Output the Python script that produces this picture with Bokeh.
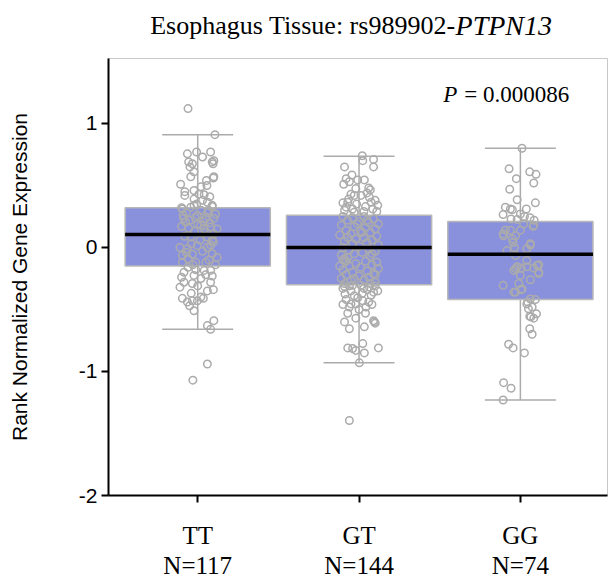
from bokeh.plotting import figure
from bokeh.models import Range1d, FixedTicker, Label
from bokeh.layouts import column
from bokeh.core.properties import value
from bokeh.embed import file_html
from bokeh.resources import INLINE

# ---------------- data ----------------
genotypes = ["TT", "GT", "GG"]
counts = ["N=117", "N=144", "N=74"]
positions = [0, 1, 2]

y_ticks = [-2, -1, 0, 1]
y_tick_labels = ["-2", "-1", "0", "1"]

upper_whisker = [0.91, 0.735, 0.80]
q3 = [0.32, 0.26, 0.21]
median = [0.105, 0.0, -0.055]
q1 = [-0.15, -0.30, -0.42]
lower_whisker = [-0.66, -0.93, -1.23]

title_plain = "Esophagus Tissue: rs989902-"
title_gene = "PTPN13"
p_value_text = "= 0.000086"

tt_dx = [-0.06, 0.107, -0.064, -0.007, 0.03, 0.08, -0.033, 0.095, 0.10, -0.048,
         -0.023, -0.043, 0.10, 0.054, -0.106, -0.023, -0.08, 0.008, 0.04, 0.075,
         -0.023, 0.03, -0.006, 0.09, 0.06, -0.10, -0.043, -0.056, 0.09, 0.097,
         0.057, -0.08, 0.02,
         -0.023, 0.09, 0.068, -0.087, -0.075, -0.002, 0.05, 0.10, -0.056, 0.019,
         0.081, -0.043, 0.06, 0.097, -0.064, -0.002, 0.06, -0.095, -0.033, 0.09,
         0.12, -0.095, -0.012, 0.05, -0.07, 0.02, 0.11, -0.05, 0.035, 0.075,
         -0.10, -0.02, 0.05, 0.10, -0.08, 0.015, -0.04, 0.08, -0.11, 0.03,
         -0.06, 0.07, 0.11, -0.03, 0.0, -0.09, 0.06, 0.12, -0.015, 0.09,
         -0.07, 0.04, -0.095,
         -0.085, -0.012, 0.04, 0.08, -0.10, -0.023, 0.02, -0.085, -0.033, 0.08,
         -0.11, 0.097, -0.04, -0.095, -0.064, -0.033, -0.002, 0.035, -0.023, 0.10,
         0.06, 0.08, 0.06, -0.03, 0.05, -0.06, 0.09, 0.0, 0.06, -0.05, 0.02]
tt_y = [1.12, 0.91, 0.755, 0.77, 0.73, 0.77, 0.675, 0.675, 0.70, 0.65,
        0.61, 0.57, 0.57, 0.54, 0.51, 0.46, 0.42, 0.43, 0.425, 0.41,
        0.39, 0.38, 0.35, 0.34, 0.365, 0.32, 0.325, 0.69, 0.69, 0.56,
        0.50, 0.45, 0.49,
        0.34, 0.33, 0.30, 0.235, 0.205, 0.26, 0.235, 0.235, 0.155, 0.18,
        0.165, 0.085, 0.085, 0.045, -0.01, 0.015, 0.0, -0.065, -0.055, -0.05,
        -0.08, -0.12, -0.12, -0.12, 0.28, 0.30, 0.27, 0.22, 0.21, 0.20,
        0.17, 0.13, 0.12, 0.11, 0.09, 0.06, 0.03, 0.02, 0.0, -0.03,
        -0.09, -0.10, -0.14, -0.14, 0.19, 0.26, 0.28, 0.15, 0.24, 0.06,
        -0.04, 0.15, 0.31,
        -0.20, -0.18, -0.185, -0.185, -0.24, -0.225, -0.25, -0.28, -0.29, -0.28,
        -0.32, -0.34, -0.37, -0.41, -0.44, -0.43, -0.43, -0.41, -0.51, -0.59,
        -0.63, -0.66, -0.94, -1.07, -0.22, -0.16, -0.23, -0.31, -0.35, -0.47, -0.40]

gt_dx = [0.02, 0.023, 0.09, 0.09, -0.09, -0.044, -0.08, -0.008, 0.033, -0.095,
         -0.06, -0.02, 0.07, -0.05, -0.03, 0.012, 0.064, -0.10, -0.07, 0.075,
         0.116, -0.08, -0.04, 0.085, -0.03, 0.05, -0.065, 0.10, -0.015, 0.04,
         0.06, -0.09, 0.03, 0.11,
         -0.10, -0.04, 0.03, 0.09, -0.07, 0.0, 0.06, 0.12, -0.11, -0.03,
         0.04, 0.10, -0.08, 0.01, 0.07, -0.05, -0.12, 0.11, 0.03, -0.02,
         0.08, -0.09, 0.05, -0.04, 0.12, 0.0, -0.10, 0.06, -0.06, 0.10,
         0.02, -0.03, -0.11, 0.07, -0.07, -0.09, -0.10, -0.08, 0.04, 0.11,
         -0.02, 0.08, -0.06, 0.01, 0.12, -0.10, 0.05, -0.04, 0.09, -0.08,
         0.0, 0.06, -0.11, 0.03, -0.05, 0.10, -0.09, 0.07, -0.01, 0.08,
         -0.07, 0.05, 0.10, -0.12, -0.03, 0.02,
         -0.09, -0.04, 0.012, 0.064, 0.116, -0.087, 0.075, -0.008, 0.023, -0.05,
         -0.02, 0.043, -0.06, -0.07, -0.09, 0.095, -0.06, 0.033, -0.07, -0.04,
         -0.02, 0.023, 0.033, 0.12, 0.002, -0.06, -0.10, 0.09, 0.02, -0.03,
         0.06, -0.08, 0.10, 0.0, 0.09, 0.10, -0.05, 0.05, -0.02, 0.04,
         0.08, -0.10, 0.03, -0.06]
gt_y = [0.74, 0.70, 0.71, 0.65, 0.65, 0.585, 0.555, 0.545, 0.545, 0.51,
        0.53, 0.475, 0.465, 0.43, 0.42, 0.42, 0.405, 0.36, 0.365, 0.365,
        0.34, 0.325, 0.31, 0.31, 0.285, 0.44, 0.39, 0.38, 0.35, 0.33,
        0.48, 0.30, 0.29, 0.29,
        0.25, 0.24, 0.25, 0.23, 0.22, 0.21, 0.20, 0.19, 0.18, 0.17,
        0.16, 0.15, 0.14, 0.13, 0.12, 0.11, 0.10, 0.09, 0.08, 0.07,
        0.06, 0.05, 0.04, 0.03, 0.02, 0.01, 0.0, -0.01, -0.02, -0.03,
        -0.04, -0.05, -0.06, -0.07, -0.08, -0.09, -0.10, -0.11, -0.11, -0.12,
        -0.13, -0.14, -0.15, -0.16, -0.17, -0.18, -0.19, -0.20, -0.21, -0.22,
        -0.23, -0.24, -0.25, -0.26, -0.27, -0.28, -0.29, -0.29, 0.19, -0.05,
        0.08, 0.22, -0.22, -0.15, -0.25, 0.12,
        -0.315, -0.305, -0.305, -0.32, -0.35, -0.375, -0.385, -0.405, -0.43, -0.455,
        -0.455, -0.48, -0.48, -0.53, -0.60, -0.60, -0.655, -0.64, -0.81, -0.815,
        -0.83, -0.775, -0.85, -0.81, -0.93, -1.395, -0.33, -0.36, -0.37, -0.39,
        -0.44, -0.42, -0.31, -0.50, -0.59, -0.61, -0.35, -0.34, -0.57, -0.53,
        -0.46, -0.46, -0.33, -0.31]

gg_dx = [0.01, -0.07, 0.058, 0.097, -0.025, 0.083, -0.066, -0.02, 0.093, -0.093,
         -0.062, -0.05, 0.037, -0.107, 0.0, 0.025, -0.058, -0.02, 0.06, 0.085,
         -0.107, -0.062, 0.0, 0.083, -0.05, 0.062, -0.083, -0.03, 0.04, 0.104,
         0.114, -0.04, 0.0, 0.062, -0.107, -0.01, -0.03, 0.004, -0.093, 0.079,
         -0.104, -0.03, -0.045, -0.037, 0.062, 0.04, -0.02, 0.04, 0.114, -0.03,
         0.006, 0.083, 0.114, -0.04, 0.01, 0.02,
         0.062, 0.093, 0.04, 0.073, 0.05, 0.10, 0.058, 0.083, 0.058, 0.073,
         -0.073, -0.045, 0.025, -0.104, -0.058, -0.107, 0.065, 0.045]
gg_y = [0.80, 0.635, 0.61, 0.59, 0.555, 0.52, 0.47, 0.385, 0.36, 0.325,
        0.31, 0.305, 0.31, 0.265, 0.27, 0.25, 0.23, 0.225, 0.24, 0.22,
        0.11, 0.14, 0.14, 0.18, 0.07, 0.03, -0.025, -0.065, -0.105, -0.145,
        -0.20, -0.185, -0.225, -0.26, -0.305, -0.29, -0.36, -0.34, 0.14, 0.17,
        0.095, 0.095, 0.04, 0.0, 0.02, -0.01, -0.155, -0.155, -0.14, -0.17,
        -0.165, -0.165, -0.21, -0.36, -0.335, 0.19,
        -0.415, -0.42, -0.455, -0.48, -0.495, -0.535, -0.555, -0.57, -0.655, -0.70,
        -0.78, -0.81, -0.85, -1.09, -1.135, -1.23, -0.56, -0.44]

point_dx = [tt_dx, gt_dx, gg_dx]
point_y = [tt_y, gt_y, gg_y]

# ---------------- styling ----------------
SERIF = "Liberation Serif"
SANS = "Liberation Sans"
BOX_FILL = "#8a91dc"
GREY = "#ababab"
BOX_W = 0.9
CAP_W = 0.44
W = 608
LEFT = 108
RIGHT = 1
FRAME_W = W - LEFT - RIGHT
HEAD_H = 57
MAIN_FRAME_H = 437
MAIN_TOP = 1
MAIN_BOTTOM = 57
FOOT_H = 579 - HEAD_H - MAIN_TOP - MAIN_FRAME_H - MAIN_BOTTOM

x_rng = Range1d(-0.553, 2.54)


def strip(height):
    """A text-only strip sharing the main plot's horizontal scale."""
    f = figure(title=None, frame_width=FRAME_W, frame_height=height,
               x_range=x_rng, y_range=Range1d(0, height),
               output_backend="svg", toolbar_location=None,
               x_axis_type=None, y_axis_type=None,
               min_border_left=LEFT, min_border_right=RIGHT,
               min_border_top=0, min_border_bottom=0)
    f.outline_line_color = None
    f.xgrid.visible = False
    f.ygrid.visible = False
    return f


# ---------------- header (title) ----------------
head = strip(HEAD_H)
TITLE_JOIN = 1.598
head.text(x=[TITLE_JOIN], y=[32], text=[title_plain], text_align="right",
          text_baseline="alphabetic", text_font=value(SERIF),
          text_font_size=value("26px"), text_color="black")
head.text(x=[TITLE_JOIN], y=[32], text=[title_gene], text_align="left",
          text_baseline="alphabetic", text_font=value(SERIF),
          text_font_style="italic", text_font_size=value("28px"), text_color="black")

# ---------------- main plot ----------------
p = figure(title=None, frame_width=FRAME_W, frame_height=MAIN_FRAME_H,
           x_range=x_rng, y_range=Range1d(-2.0, 1.524),
           output_backend="svg", toolbar_location=None,
           min_border_left=LEFT, min_border_right=RIGHT,
           min_border_top=MAIN_TOP, min_border_bottom=MAIN_BOTTOM)
p.xgrid.visible = False
p.ygrid.visible = False
p.outline_line_color = "#c8c8c8"
p.outline_line_width = 1

# whiskers (vertical)
p.segment(x0=positions, y0=lower_whisker, x1=positions, y1=upper_whisker,
          line_color=GREY, line_width=1.5)
# caps
p.segment(x0=[x - CAP_W / 2 for x in positions], y0=upper_whisker,
          x1=[x + CAP_W / 2 for x in positions], y1=upper_whisker,
          line_color=GREY, line_width=1.5)
p.segment(x0=[x - CAP_W / 2 for x in positions], y0=lower_whisker,
          x1=[x + CAP_W / 2 for x in positions], y1=lower_whisker,
          line_color=GREY, line_width=1.5)
# boxes
p.vbar(x=positions, width=BOX_W, top=q3, bottom=q1,
       fill_color=BOX_FILL, line_color="#b8b8b8", line_width=1.5)

# points
for pos, dxs, ys in zip(positions, point_dx, point_y):
    p.scatter(x=[pos + d for d in dxs], y=ys, marker="circle", size=7.5,
              fill_color=None, line_color=GREY, line_width=1.5)

# medians
p.segment(x0=[x - BOX_W / 2 for x in positions], y0=median,
          x1=[x + BOX_W / 2 for x in positions], y1=median,
          line_color="black", line_width=3.5)

# ---------------- axes ----------------
yax = p.yaxis[0]
yax.ticker = FixedTicker(ticks=y_ticks)
yax.major_label_overrides = {t: s for t, s in zip(y_ticks, y_tick_labels)}
yax.minor_tick_line_color = None
yax.axis_line_color = "black"
yax.axis_line_width = 2
yax.major_tick_line_color = "black"
yax.major_tick_line_width = 2
yax.major_tick_out = 7
yax.major_tick_in = 0
yax.major_label_text_font = SANS
yax.major_label_text_font_size = "21px"
yax.major_label_text_color = "black"
yax.major_label_standoff = 4
yax.axis_label = "Rank Normalized Gene Expression"
yax.axis_label_text_font = SANS
yax.axis_label_text_font_size = "21px"
yax.axis_label_text_font_style = "normal"
yax.axis_label_text_color = "black"
yax.axis_label_standoff = 45

xax = p.xaxis[0]
xax.ticker = FixedTicker(ticks=positions)
xax.major_label_overrides = {pos: g for pos, g in zip(positions, genotypes)}
xax.minor_tick_line_color = None
xax.axis_line_color = "black"
xax.axis_line_width = 2
xax.major_tick_line_color = "black"
xax.major_tick_line_width = 2
xax.major_tick_out = 7
xax.major_tick_in = 0
xax.major_label_text_font = SERIF
xax.major_label_text_font_size = "25px"
xax.major_label_text_color = "black"
xax.major_label_standoff = 19

# P value
p.add_layout(Label(x=1.522, y=1.236, text="P", text_font=SERIF,
                   text_font_size="23px", text_font_style="italic",
                   text_align="left", text_baseline="alphabetic", text_color="black"))
p.add_layout(Label(x=1.652, y=1.236, text=p_value_text, text_font=SERIF,
                   text_font_size="23px", text_align="left",
                   text_baseline="alphabetic", text_color="black"))

# ---------------- footer (group sizes) ----------------
foot = strip(FOOT_H)
foot.text(x=positions, y=[14] * len(positions), text=counts, text_align="center",
          text_baseline="alphabetic", text_font=value(SERIF),
          text_font_size=value("25px"), text_color="black")

layout = column(head, p, foot, spacing=0)
open("out.html", "w").write(file_html(layout, INLINE))
